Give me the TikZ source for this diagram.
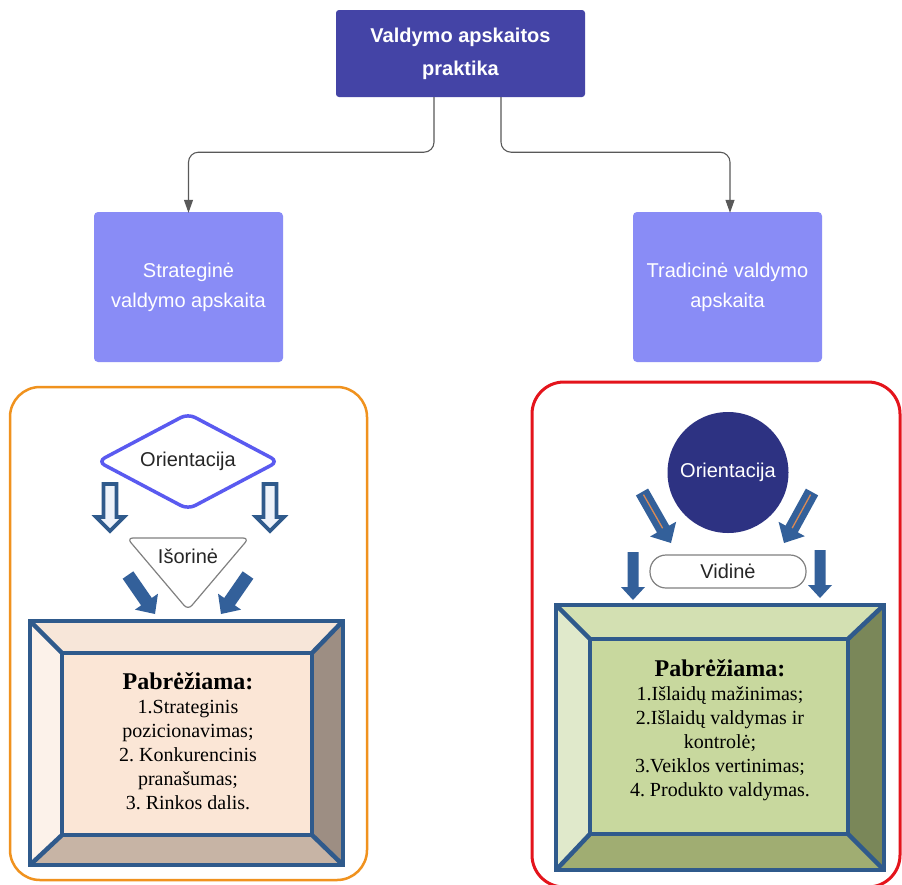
\documentclass[tikz,border=0pt]{standalone}
\usepackage{fontspec}
\setmainfont{Liberation Serif}
\setsansfont{Liberation Sans}
\frenchspacing
\usetikzlibrary{calc,shapes.geometric,arrows.meta}
\definecolor{topblue}{HTML}{4444A6}
\definecolor{midblue}{HTML}{898CF6}
\definecolor{darknavy}{HTML}{2D3282}
\definecolor{diamblue}{HTML}{5A5AF0}
\definecolor{arrblue}{HTML}{33609A}
\definecolor{bevline}{HTML}{2F5A8C}
\definecolor{orframe}{HTML}{F0921E}
\definecolor{redframe}{HTML}{E4141C}
\definecolor{stripecol}{HTML}{D98A55}
\definecolor{peachtop}{HTML}{F7E6D9}
\definecolor{peachleft}{HTML}{FCF2EA}
\definecolor{peachin}{HTML}{FBE6D6}
\definecolor{peachright}{HTML}{9D8E83}
\definecolor{peachbot}{HTML}{C7B4A5}
\definecolor{greentop}{HTML}{D3E0B2}
\definecolor{greenleft}{HTML}{E0E9CB}
\definecolor{greenin}{HTML}{C8D89E}
\definecolor{greenright}{HTML}{7A8759}
\definecolor{greenbot}{HTML}{A0AD72}
\definecolor{hollowin}{HTML}{EEF3FA}
\newcommand{\blockarr}[6]{%
  \path (#2) coordinate (ba-a) (#3) coordinate (ba-b);
  \path ($(ba-b)!#6!(ba-a)$) coordinate (ba-h);
  \path[#1] ($(ba-a)!#4!90:(ba-b)$) -- ($(ba-h)!#4!90:(ba-b)$) -- ($(ba-h)!#5!90:(ba-b)$) -- (ba-b) -- ($(ba-h)!#5!-90:(ba-b)$) -- ($(ba-h)!#4!-90:(ba-b)$) -- ($(ba-a)!#4!-90:(ba-b)$) -- cycle;}
\tikzset{
  conn/.style={draw=black!65, line width=1.1pt, rounded corners=10pt, -{Triangle[width=9pt,length=13pt]}},
  topbox/.style={fill=topblue, rounded corners=3pt, minimum width=249pt, minimum height=87pt, text=white, align=center, font=\sffamily\bfseries\fontsize{20}{33}\selectfont, inner sep=0pt},
  midbox/.style={fill=midblue, rounded corners=4pt, minimum width=189pt, minimum height=150pt, text=white, align=center, font=\sffamily\fontsize{20}{30}\selectfont, inner sep=0pt},
  sanslbl/.style={font=\sffamily\fontsize{20}{24}\selectfont, text=black!85, inner sep=0pt},
  hollow/.style={fill=hollowin, draw=bevline, line width=3.6pt, line join=miter},
  solidarr/.style={fill=arrblue},
  bevel/.style={draw=bevline, line width=4.5pt, line join=miter},
  emph/.style={align=center, font=\frenchspacing\fontsize{20}{24}\selectfont, text=black, inner sep=0pt},
}
\begin{document}
\begin{tikzpicture}[x=1pt,y=-1pt]
\useasboundingbox (0,0) rectangle (902,884);
\fill[white] (0,0) rectangle (902,884);
\clip (0,0) rectangle (902,884);

% frames
\draw[orframe, line width=2.5pt, rounded corners=30pt] (10,387) rectangle (367,880);
\draw[redframe, line width=3pt, rounded corners=32pt] (532,382) rectangle (900,887);

% top level
\node[topbox] (top) at (460.5,53.5) {Valdymo apskaitos\\praktika};
\node[midbox] (sv) at (188.5,287) {Strateginė\\valdymo apskaita};
\node[midbox] (tv) at (727.5,287) {Tradicinė valdymo\\apskaita};
\draw[conn] ([xshift=-26.5pt]top.south) -- ++(0,55) -| ([yshift=-1pt]sv.north);
\draw[conn] ([xshift=40.5pt]top.south) -- ++(0,55) -| ([xshift=2.5pt,yshift=-1pt]tv.north);

% ---------- left panel ----------
\node[draw=diamblue, line width=3.5pt, shape=diamond, minimum width=182pt, minimum height=97pt, rounded corners=8pt, inner sep=0pt] (ldia) at (188,461.5) {};
\node[sanslbl] (lori) at (ldia.center) {Orientacija};
\blockarr{hollow}{110,484}{110,531}{6.5pt}{14pt}{14pt}
\blockarr{hollow}{270,484}{270,531}{6.5pt}{14pt}{14pt}
\coordinate (tr1) at (127,538);
\coordinate (tr2) at (249,538);
\coordinate (tr3) at (188,610);
\draw[black!50, line width=1.2pt, rounded corners=6pt, fill=white] (tr1) -- (tr2) -- (tr3) -- cycle;
\node[sanslbl] (isor) at (188,556) {Išorinė};
\blockarr{solidarr}{128,575}{155,614}{6.5pt}{14pt}{15pt}
\blockarr{solidarr}{248,575}{221,614}{6.5pt}{14pt}{15pt}

% left bevel box
\coordinate (LO1) at (30,621); \coordinate (LO2) at (343,621);
\coordinate (LO3) at (343,865); \coordinate (LO4) at (30,865);
\coordinate (LI1) at (62,653); \coordinate (LI2) at (312,653);
\coordinate (LI3) at (312,835); \coordinate (LI4) at (62,835);
\fill[peachtop] (LO1) -- (LO2) -- (LI2) -- (LI1) -- cycle;
\fill[peachleft] (LO1) -- (LI1) -- (LI4) -- (LO4) -- cycle;
\fill[peachright] (LO2) -- (LO3) -- (LI3) -- (LI2) -- cycle;
\fill[peachbot] (LO4) -- (LI4) -- (LI3) -- (LO3) -- cycle;
\fill[peachin] (LI1) rectangle (LI3);
\draw[bevel] (LO1) rectangle (LO3);
\draw[bevel] (LI1) rectangle (LI3);
\draw[bevel] (LO1) -- (LI1) (LO2) -- (LI2) (LO3) -- (LI3) (LO4) -- (LI4);
\node[emph] (ltext) at (188,741) {{\fontsize{24}{24}\selectfont\bfseries Pabrėžiama:}\\1.Strateginis\\pozicionavimas;\\2. Konkurencinis\\pranašumas;\\3. Rinkos dalis.};

% ---------- right panel ----------
\node[circle, fill=darknavy, minimum size=121pt, inner sep=0pt, text=white, font=\sffamily\fontsize{20}{24}\selectfont] (rori) at (728,472.5) {Orientacija};
\blockarr{solidarr}{642,492}{671,543}{7pt}{15pt}{16pt}
\draw[stripecol, line width=1.3pt] ($(ba-a)!3pt!(ba-b)$) -- ($(ba-h)!1pt!(ba-a)$);
\blockarr{solidarr}{812,492}{784,543}{7pt}{15pt}{16pt}
\draw[stripecol, line width=1.3pt] ($(ba-a)!3pt!(ba-b)$) -- ($(ba-h)!1pt!(ba-a)$);
\node[draw=black!50, line width=1.2pt, fill=white, rounded corners=16pt, minimum width=156pt, minimum height=33pt, inner sep=0pt] (vid) at (728,571.5) {};
\node[sanslbl] (vidt) at (vid.center) {Vidinė};
\blockarr{solidarr}{633,552}{633,600}{5.5pt}{12pt}{13pt}
\blockarr{solidarr}{820,550}{820,598}{5.5pt}{12pt}{13pt}

% right bevel box
\coordinate (RO1) at (556,605); \coordinate (RO2) at (884,605);
\coordinate (RO3) at (884,870); \coordinate (RO4) at (556,870);
\coordinate (RI1) at (590,639); \coordinate (RI2) at (848,639);
\coordinate (RI3) at (848,834); \coordinate (RI4) at (590,834);
\fill[greentop] (RO1) -- (RO2) -- (RI2) -- (RI1) -- cycle;
\fill[greenleft] (RO1) -- (RI1) -- (RI4) -- (RO4) -- cycle;
\fill[greenright] (RO2) -- (RO3) -- (RI3) -- (RI2) -- cycle;
\fill[greenbot] (RO4) -- (RI4) -- (RI3) -- (RO3) -- cycle;
\fill[greenin] (RI1) rectangle (RI3);
\draw[bevel] (RO1) rectangle (RO3);
\draw[bevel] (RI1) rectangle (RI3);
\draw[bevel] (RO1) -- (RI1) (RO2) -- (RI2) (RO3) -- (RI3) (RO4) -- (RI4);
\node[emph] (rtext) at (720,730) {{\fontsize{24}{24}\selectfont\bfseries Pabrėžiama:}\\1.Išlaidų mažinimas;\\2.Išlaidų valdymas ir\\kontrolė;\\3.Veiklos vertinimas;\\4. Produkto valdymas.};
\end{tikzpicture}
\end{document}
